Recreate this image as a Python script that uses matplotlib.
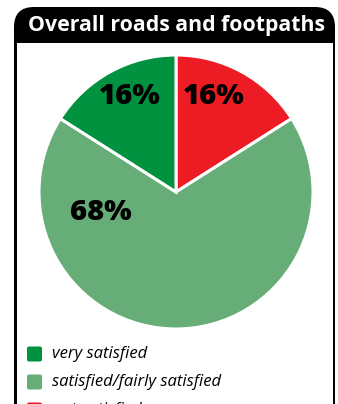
import matplotlib
matplotlib.use("Agg")
import matplotlib.pyplot as plt
from matplotlib.patches import FancyBboxPatch, Rectangle

# data
title = "Overall roads and footpaths"
categories = ["very satisfied", "satisfied/fairly satisfied", "not satisfied"]
values = [16, 68, 16]
colors = ["#00923f", "#66ad77", "#ed1c24"]

W, H = 338, 404
plt.rcParams['font.family'] = ['Open Sans', 'DejaVu Sans']

fig = plt.figure(figsize=(W / 100, H / 100), dpi=100)
fig.patch.set_facecolor("white")

def px_axes(z):
    a = fig.add_axes([0, 0, 1, 1], zorder=z)
    a.set_xlim(0, W)
    a.set_ylim(H, 0)
    a.axis("off")
    return a

bg = px_axes(0)

# frame with black title bar
frame = FancyBboxPatch((14, 7), 321, 440, boxstyle="round,pad=0,rounding_size=20",
                       fc="black", ec="black", lw=0)
bg.add_patch(frame)
bg.add_patch(Rectangle((16.5, 43), 316, 420, fc="white", ec="none"))
bg.text(176, 25, title, color="white", fontsize=15.3, fontweight="bold",
        ha="center", va="center")

# pie
cx, cy, r = 176, 192, 137
ax = fig.add_axes([(cx - r) / W, (H - cy - r) / H, 2 * r / W, 2 * r / H], zorder=1)
# order clockwise from top: red, light green, dark green
order = [2, 1, 0]
ax.pie([values[i] for i in order], colors=[colors[i] for i in order],
       startangle=90, counterclock=False,
       wedgeprops=dict(edgecolor="white", linewidth=2.2))
ax.set_xlim(-1, 1)
ax.set_ylim(-1, 1)
ax.set_aspect("equal")

top = px_axes(2)

# percentage labels
lab_kw = dict(fontsize=21, fontweight="heavy", ha="center", va="center")
top.text(130, 97, f"{values[0]}%", **lab_kw)
top.text(214, 97, f"{values[2]}%", **lab_kw)
top.text(101, 213, f"{values[1]}%", **lab_kw)

# legend
for i, (lab, col) in enumerate(zip(categories, colors)):
    y = 354 + i * 28
    top.add_patch(FancyBboxPatch((27, y - 7.5), 15, 15, boxstyle="round,pad=0,rounding_size=2",
                                 fc=col, ec="none"))
    top.text(52, y, lab, fontsize=12, fontstyle="italic", ha="left", va="center")

fig.savefig("out.png", dpi=100)
